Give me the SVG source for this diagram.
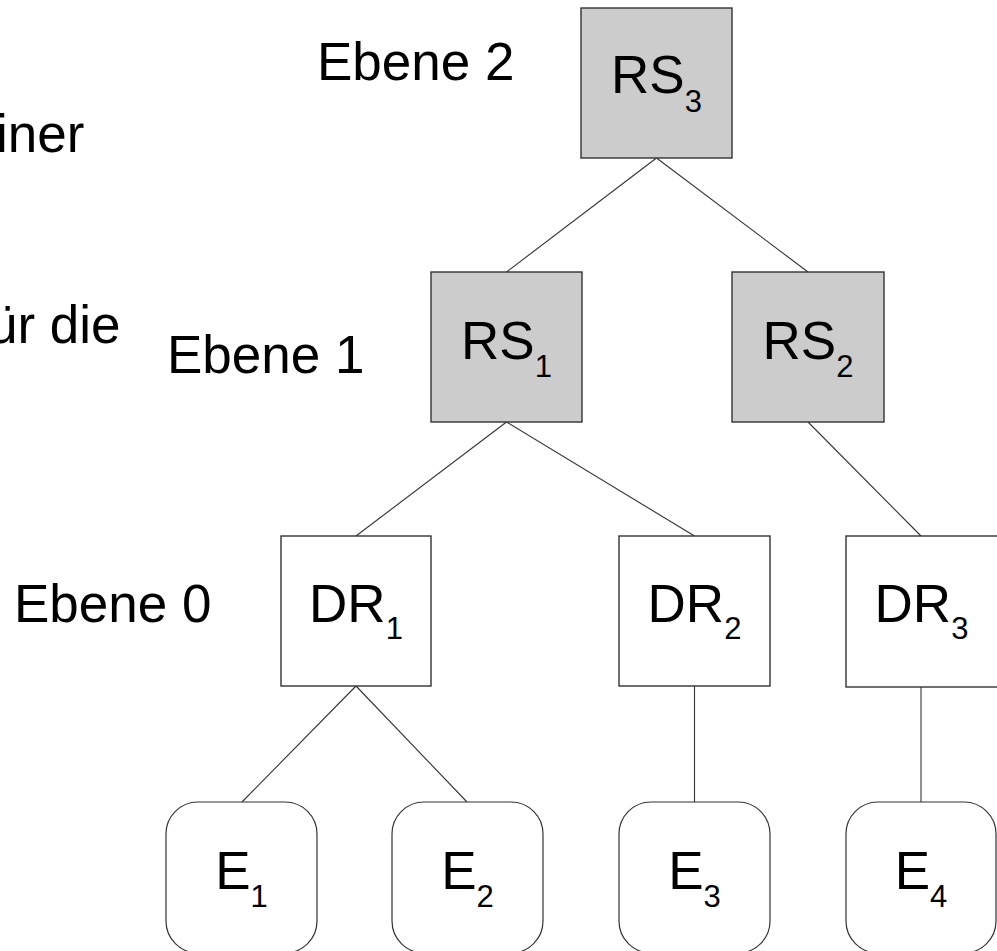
<svg xmlns="http://www.w3.org/2000/svg" width="997" height="951" viewBox="0 0 997 951">
  <style>
    .bg { fill: #ffffff; }
    .rs { fill: #cccccc; stroke: #333333; stroke-width: 1.4; }
    .dr { fill: #ffffff; stroke: #333333; stroke-width: 1.4; }
    .ev { fill: #ffffff; stroke: #333333; stroke-width: 1.2; }
    .edge { stroke: #333333; stroke-width: 1.1; fill: none; }
    text { font-family: "Liberation Sans", Arial, sans-serif; fill: #000000; }
    .lbl { font-size: 53px; text-anchor: middle; }
    .sub { font-size: 31px; }
    .side { font-size: 53px; }
  </style>
  <rect class="bg" x="0" y="0" width="997" height="951"/>

  <!-- side texts (partly running off the left edge) -->
  <g id="side-text">
    <text class="side" x="-4" y="152">iner</text>
    <text class="side" x="-12" y="343">ür die</text>
    <text class="side" x="317" y="80">Ebene 2</text>
    <text class="side" x="167" y="373">Ebene 1</text>
    <text class="side" x="14" y="622">Ebene 0</text>
  </g>

  <!-- tree edges -->
  <g id="connectors">
    <line class="edge" x1="656.5" y1="158" x2="506.5" y2="272"/>
    <line class="edge" x1="656.5" y1="158" x2="808" y2="272"/>
    <line class="edge" x1="506.5" y1="422" x2="356" y2="536"/>
    <line class="edge" x1="506.5" y1="422" x2="694.5" y2="536"/>
    <line class="edge" x1="808" y1="422" x2="921" y2="536"/>
    <line class="edge" x1="356" y1="686" x2="242" y2="802"/>
    <line class="edge" x1="356" y1="686" x2="467" y2="802"/>
    <line class="edge" x1="694.5" y1="686" x2="694.5" y2="802"/>
    <line class="edge" x1="921" y1="686" x2="921" y2="802"/>
  </g>

  <!-- level 2 -->
  <g id="RS3">
    <rect class="rs" x="581" y="8" width="151" height="150"/>
    <text class="lbl" x="656.5" y="93">RS<tspan class="sub" dy="19">3</tspan></text>
  </g>

  <!-- level 1 -->
  <g id="RS1">
    <rect class="rs" x="431" y="272" width="151" height="150"/>
    <text class="lbl" x="506.5" y="359">RS<tspan class="sub" dy="18">1</tspan></text>
  </g>
  <g id="RS2">
    <rect class="rs" x="732" y="272" width="152" height="150"/>
    <text class="lbl" x="808" y="359">RS<tspan class="sub" dy="18">2</tspan></text>
  </g>

  <!-- level 0 -->
  <g id="DR1">
    <rect class="dr" x="281" y="536" width="150" height="150"/>
    <text class="lbl" x="356" y="622">DR<tspan class="sub" dy="17">1</tspan></text>
  </g>
  <g id="DR2">
    <rect class="dr" x="619" y="536" width="151" height="150"/>
    <text class="lbl" x="694.5" y="622">DR<tspan class="sub" dy="17">2</tspan></text>
  </g>
  <g id="DR3">
    <rect class="dr" x="846" y="536" width="153" height="151"/>
    <text class="lbl" x="921.5" y="622">DR<tspan class="sub" dy="17">3</tspan></text>
  </g>

  <!-- end devices -->
  <g id="E1">
    <rect class="ev" x="166" y="802" width="151" height="151" rx="32" ry="32"/>
    <text class="lbl" x="241.5" y="889">E<tspan class="sub" dy="18">1</tspan></text>
  </g>
  <g id="E2">
    <rect class="ev" x="392" y="802" width="151" height="151" rx="32" ry="32"/>
    <text class="lbl" x="467.5" y="889">E<tspan class="sub" dy="18">2</tspan></text>
  </g>
  <g id="E3">
    <rect class="ev" x="619" y="802" width="151" height="151" rx="32" ry="32"/>
    <text class="lbl" x="694.5" y="889">E<tspan class="sub" dy="18">3</tspan></text>
  </g>
  <g id="E4">
    <rect class="ev" x="846" y="802" width="150" height="151" rx="32" ry="32"/>
    <text class="lbl" x="921" y="889">E<tspan class="sub" dy="18">4</tspan></text>
  </g>
</svg>
